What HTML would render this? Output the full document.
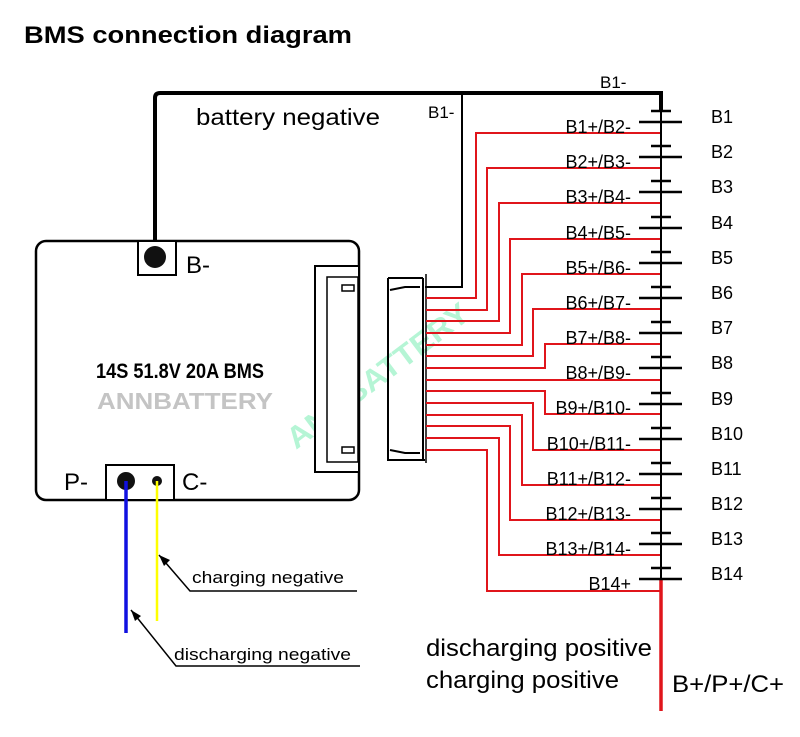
<!DOCTYPE html>
<html><head><meta charset="utf-8"><style>
html,body{margin:0;padding:0;background:#fff;}
svg{display:block;font-family:"Liberation Sans",Arial,sans-serif;}
</style></head><body>
<svg width="800" height="737" viewBox="0 0 800 737" xmlns="http://www.w3.org/2000/svg">
<text x="24" y="43" font-size="24" font-weight="bold" textLength="328" lengthAdjust="spacingAndGlyphs">BMS connection diagram</text>

<!-- watermark -->
<text x="0" y="0" font-size="30" font-weight="bold" fill="#b5f5d5" transform="translate(296,450) rotate(-37)" textLength="220" lengthAdjust="spacingAndGlyphs">ANNBATTERY</text>

<!-- top black wire -->
<path d="M155,247 L155,98 Q155,93 160,93 L661,93 L661,111" fill="none" stroke="#000" stroke-width="4"/>
<text x="600" y="88" font-size="17">B1-</text>
<text x="196" y="125" font-size="23" textLength="184" lengthAdjust="spacingAndGlyphs">battery negative</text>
<text x="428" y="118" font-size="17">B1-</text>
<path d="M462,93 L462,287 L425,287" fill="none" stroke="#000" stroke-width="2"/>

<!-- BMS box -->
<rect x="36" y="241" width="323" height="259" rx="10" fill="none" stroke="#000" stroke-width="2.5"/>
<rect x="138" y="241" width="38" height="34" fill="#fff" stroke="#000" stroke-width="2"/>
<circle cx="155" cy="257" r="11" fill="#111"/>
<text x="186" y="273" font-size="24">B-</text>
<rect x="106" y="465" width="68" height="35" fill="#fff" stroke="#000" stroke-width="2"/>
<circle cx="126" cy="481" r="9" fill="#111"/>
<circle cx="157" cy="481" r="5" fill="#111"/>
<text x="64" y="490" font-size="24">P-</text>
<text x="182" y="490" font-size="24">C-</text>
<text x="180" y="378" font-size="21" font-weight="bold" text-anchor="middle" textLength="168" lengthAdjust="spacingAndGlyphs">14S 51.8V 20A BMS</text>
<text x="185" y="409" font-size="23" font-weight="bold" fill="#c4c4c4" text-anchor="middle" textLength="176" lengthAdjust="spacingAndGlyphs">ANNBATTERY</text>
<!-- internal connector -->
<rect x="315" y="266" width="44" height="206" fill="#fff" stroke="#000" stroke-width="2"/>
<rect x="327" y="277" width="31" height="185" fill="none" stroke="#000" stroke-width="1.5"/>
<rect x="342" y="285" width="12" height="6" fill="#fff" stroke="#000" stroke-width="1.5"/>
<rect x="342" y="447" width="12" height="6" fill="#fff" stroke="#000" stroke-width="1.5"/>

<!-- external connector -->
<path d="M388,278 L388,460 L425,460 M423,278 L423,460 M388,278 L423,278 M390,290 L405,287 L420,287 M390,450 L405,453 L420,453" fill="none" stroke="#000" stroke-width="2"/>
<line x1="426" y1="274" x2="426" y2="463" stroke="#000" stroke-width="1.5"/>

<!-- wires -->
<line x1="126" y1="481" x2="126" y2="633" stroke="#1010e0" stroke-width="3.5"/>
<line x1="157" y1="481" x2="157" y2="621" stroke="#ffff00" stroke-width="2.5"/>
<path d="M159,555 L190,591 L357,591" fill="none" stroke="#000" stroke-width="1.5"/>
<path d="M159,555 L170,560 L164,566 Z" fill="#000"/>
<text x="192" y="583" font-size="17" textLength="152" lengthAdjust="spacingAndGlyphs">charging negative</text>
<path d="M131,610 L176,666 L360,666" fill="none" stroke="#000" stroke-width="1.5"/>
<path d="M131,610 L141,616 L135,621 Z" fill="#000"/>
<text x="174" y="660" font-size="17" textLength="177" lengthAdjust="spacingAndGlyphs">discharging negative</text>

<!-- red taps -->
<g fill="none" stroke="#e0151b" stroke-width="2">
<path d="M426,298 L476,298 L476,133 L661,133"/>
<path d="M426,310 L487,310 L487,168 L661,168"/>
<path d="M426,321 L499,321 L499,203 L661,203"/>
<path d="M426,333 L510,333 L510,239 L661,239"/>
<path d="M426,345 L522,345 L522,274 L661,274"/>
<path d="M426,356 L533,356 L533,309 L661,309"/>
<path d="M426,368 L545,368 L545,344 L661,344"/>
<path d="M426,380 L661,380"/>
<path d="M426,391 L545,391 L545,414 L661,414"/>
<path d="M426,403 L533,403 L533,450 L661,450"/>
<path d="M426,415 L522,415 L522,485 L661,485"/>
<path d="M426,426 L510,426 L510,520 L661,520"/>
<path d="M426,438 L499,438 L499,555 L661,555"/>
<path d="M426,450 L487,450 L487,591 L661,591"/>
</g>
<line x1="661" y1="579" x2="661" y2="711" stroke="#e0151b" stroke-width="3.5"/>

<!-- battery stack -->
<line x1="661" y1="111" x2="661" y2="579" stroke="#000" stroke-width="2"/>
<g stroke="#000" stroke-width="2.5">
<line x1="651" y1="111" x2="671" y2="111"/><line x1="639" y1="122" x2="682" y2="122"/>
<line x1="651" y1="146" x2="671" y2="146"/><line x1="639" y1="157" x2="682" y2="157"/>
<line x1="651" y1="181" x2="671" y2="181"/><line x1="639" y1="192" x2="682" y2="192"/>
<line x1="651" y1="217" x2="671" y2="217"/><line x1="639" y1="228" x2="682" y2="228"/>
<line x1="651" y1="252" x2="671" y2="252"/><line x1="639" y1="263" x2="682" y2="263"/>
<line x1="651" y1="287" x2="671" y2="287"/><line x1="639" y1="298" x2="682" y2="298"/>
<line x1="651" y1="322" x2="671" y2="322"/><line x1="639" y1="333" x2="682" y2="333"/>
<line x1="651" y1="357" x2="671" y2="357"/><line x1="639" y1="368" x2="682" y2="368"/>
<line x1="651" y1="393" x2="671" y2="393"/><line x1="639" y1="404" x2="682" y2="404"/>
<line x1="651" y1="428" x2="671" y2="428"/><line x1="639" y1="439" x2="682" y2="439"/>
<line x1="651" y1="463" x2="671" y2="463"/><line x1="639" y1="474" x2="682" y2="474"/>
<line x1="651" y1="498" x2="671" y2="498"/><line x1="639" y1="509" x2="682" y2="509"/>
<line x1="651" y1="533" x2="671" y2="533"/><line x1="639" y1="544" x2="682" y2="544"/>
<line x1="651" y1="568" x2="671" y2="568"/><line x1="639" y1="579" x2="682" y2="579"/>
</g>

<g font-size="18" text-anchor="end">
<text x="631" y="133">B1+/B2-</text>
<text x="631" y="168">B2+/B3-</text>
<text x="631" y="203">B3+/B4-</text>
<text x="631" y="239">B4+/B5-</text>
<text x="631" y="274">B5+/B6-</text>
<text x="631" y="309">B6+/B7-</text>
<text x="631" y="344">B7+/B8-</text>
<text x="631" y="379">B8+/B9-</text>
<text x="631" y="414">B9+/B10-</text>
<text x="631" y="450">B10+/B11-</text>
<text x="631" y="485">B11+/B12-</text>
<text x="631" y="520">B12+/B13-</text>
<text x="631" y="555">B13+/B14-</text>
<text x="631" y="590">B14+</text>
</g>
<g font-size="18">
<text x="711" y="123">B1</text>
<text x="711" y="158">B2</text>
<text x="711" y="193">B3</text>
<text x="711" y="229">B4</text>
<text x="711" y="264">B5</text>
<text x="711" y="299">B6</text>
<text x="711" y="334">B7</text>
<text x="711" y="369">B8</text>
<text x="711" y="405">B9</text>
<text x="711" y="440">B10</text>
<text x="711" y="475">B11</text>
<text x="711" y="510">B12</text>
<text x="711" y="545">B13</text>
<text x="711" y="580">B14</text>
</g>

<text x="426" y="656" font-size="24" textLength="226" lengthAdjust="spacingAndGlyphs">discharging positive</text>
<text x="426" y="688" font-size="24" textLength="193" lengthAdjust="spacingAndGlyphs">charging positive</text>
<text x="672" y="692" font-size="24" textLength="112" lengthAdjust="spacingAndGlyphs">B+/P+/C+</text>
</svg>
</body></html>
